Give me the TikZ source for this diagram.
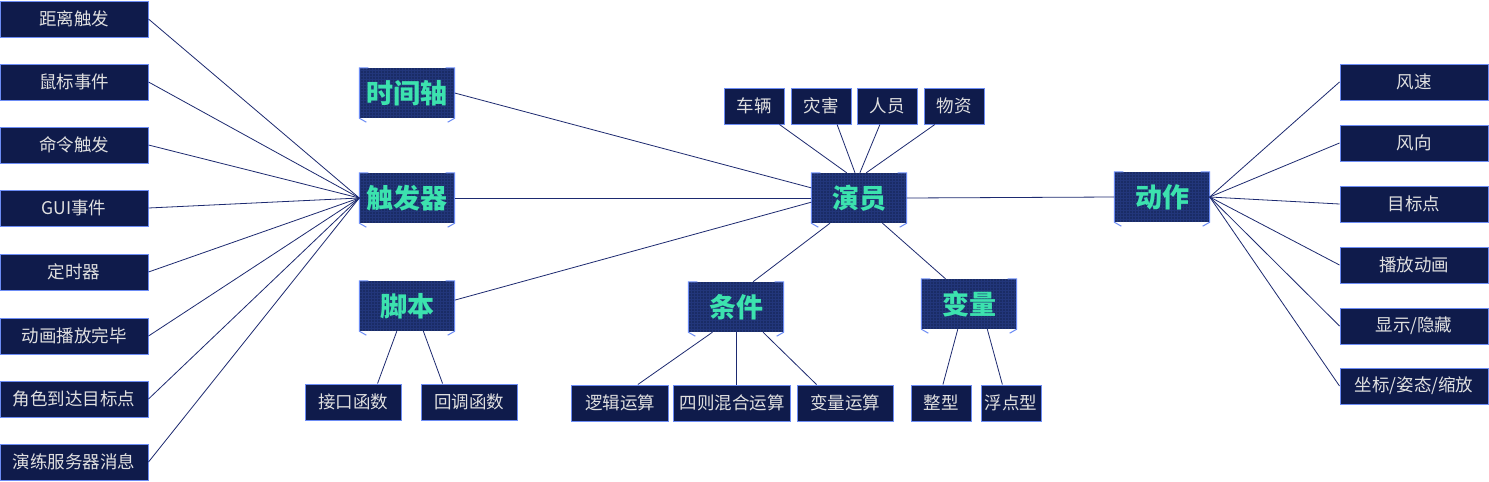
\documentclass[tikz,border=0pt]{standalone}
\usepackage{fontspec}
\setmainfont{Noto Sans CJK SC}
\usetikzlibrary{calc}

\definecolor{leaffill}{HTML}{0F1B4B}
\definecolor{leafline}{HTML}{6C8CF5}
\definecolor{hubfill}{HTML}{1A2C66}
\definecolor{hubgrid}{HTML}{22367A}
\definecolor{hubtext}{HTML}{3CE2AE}
\definecolor{wire}{HTML}{1D2A70}

\begin{document}
\begin{tikzpicture}[x=1pt,y=-1pt,
	leaf/.style={draw=leafline, fill=leaffill, text=white!88!black, line width=1pt, inner sep=0pt, minimum height=36pt, font=\fontsize{17.5}{17.5}\selectfont},
	hub/.style={fill=hubfill, text=hubtext, inner sep=0pt, minimum width=95pt, minimum height=50pt, font=\fontsize{27}{27}\selectfont\bfseries,
		path picture={\draw[hubgrid, line width=0.3pt] (path picture bounding box.south west) grid[step=3pt] (path picture bounding box.north east);}},
	conn/.style={draw=wire, line width=0.8pt}]
	
	\useasboundingbox[fill=white] (0,0) rectangle (1489,482);
	
	% trigger sources
	\node[leaf, minimum width=148pt] (dist) at (74,19) {距离触发};
	\node[leaf, minimum width=148pt] (mouse) at (74,82) {鼠标事件};
	\node[leaf, minimum width=148pt] (cmd) at (74,145) {命令触发};
	\node[leaf, minimum width=148pt] (gui) at (74,208) {GUI事件};
	\node[leaf, minimum width=148pt] (timer) at (74,272) {定时器};
	\node[leaf, minimum width=148pt] (anim) at (74,336) {动画播放完毕};
	\node[leaf, minimum width=148pt] (reach) at (74,399) {角色到达目标点};
	\node[leaf, minimum width=148pt] (server) at (74,462) {演练服务器消息};
	
	% hubs
	\node[hub] (time) at (407,93) {时间轴};
	\node[hub] (trig) at (407,198) {触发器};
	\node[hub] (script) at (407,306) {脚本};
	\node[hub] (actor) at (859,198) {演员};
	\node[hub] (cond) at (736,307) {条件};
	\node[hub] (var) at (969,304) {变量};
	\node[hub] (act) at (1162,197) {动作};
	
	% actor types
	\node[leaf, minimum width=60pt] (car) at (754,106) {车辆};
	\node[leaf, minimum width=60pt] (dis) at (821,106) {灾害};
	\node[leaf, minimum width=60pt] (crew) at (887,106) {人员};
	\node[leaf, minimum width=60pt] (goods) at (954,106) {物资};
	
	% script, condition, variable parts
	\node[leaf, minimum width=96pt] (api) at (353,402) {接口函数};
	\node[leaf, minimum width=96pt] (cb) at (469,402) {回调函数};
	\node[leaf, minimum width=97pt] (logic) at (620,403) {逻辑运算};
	\node[leaf, minimum width=117pt] (mix) at (732,403) {四则混合运算};
	\node[leaf, minimum width=96pt] (varop) at (845,403) {变量运算};
	\node[leaf, minimum width=60pt] (int) at (941,403) {整型};
	\node[leaf, minimum width=60pt] (flt) at (1011,403) {浮点型};
	
	% actions
	\node[leaf, minimum width=148pt] (speed) at (1414,82) {风速};
	\node[leaf, minimum width=148pt] (dir) at (1414,143) {风向};
	\node[leaf, minimum width=148pt] (target) at (1414,204) {目标点};
	\node[leaf, minimum width=148pt] (play) at (1414,265) {播放动画};
	\node[leaf, minimum width=148pt] (show) at (1414,326) {显示/隐藏};
	\node[leaf, minimum width=148pt] (pose) at (1414,386) {坐标/姿态/缩放};
	
	% hub corners
	\foreach \n in {time,trig,script,actor,cond,var,act}{
		\draw[leafline, line width=1pt] ($(\n.north west)+(9,0)$) -| (\n.south west) -- ++(7,4);
		\draw[leafline, line width=1pt] ($(\n.north east)+(-9,0)$) -| (\n.south east) -- ++(-7,4);
	}
	
	\path[conn] (dist.east) edge (trig.west);
	\path[conn] (mouse.east) edge (trig.west);
	\path[conn] (cmd.east) edge (trig.west);
	\path[conn] (gui.east) edge (trig.west);
	\path[conn] (timer.east) edge (trig.west);
	\path[conn] (anim.east) edge (trig.west);
	\path[conn] (reach.east) edge (trig.west);
	\path[conn] (server.east) edge (trig.west);
	
	\path[conn] (time.east) edge (actor.168);
	\path[conn] (trig.east) edge (actor.west);
	\path[conn] (script.7) edge (actor.185);
	\path[conn] (actor.east) edge (act.west);
	
	\path[conn] (car.-36) edge (actor.116);
	\path[conn] (dis.-49) edge (actor.99);
	\path[conn] (crew.-111) edge (actor.88);
	\path[conn] (goods.-136) edge (actor.74);
	
	\path[conn] (actor.-139) edge (cond.56);
	\path[conn] (actor.-47) edge (var.133);
	
	\path[conn] (script.248) edge (api.37);
	\path[conn] (script.303) edge (cb.145);
	\path[conn] (cond.-133) edge (logic.46);
	\path[conn] (cond.south) edge (cond.south |- mix.north);
	\path[conn] (cond.-43) edge (varop.147);
	\path[conn] (var.-114) edge (int.84);
	\path[conn] (var.-54) edge (flt.115);
	
	\path[conn] (act.east) edge (speed.west);
	\path[conn] (act.east) edge (dir.west);
	\path[conn] (act.east) edge (target.west);
	\path[conn] (act.east) edge (play.west);
	\path[conn] (act.east) edge (show.west);
	\path[conn] (act.east) edge (pose.west);
	
\end{tikzpicture}
\end{document}
